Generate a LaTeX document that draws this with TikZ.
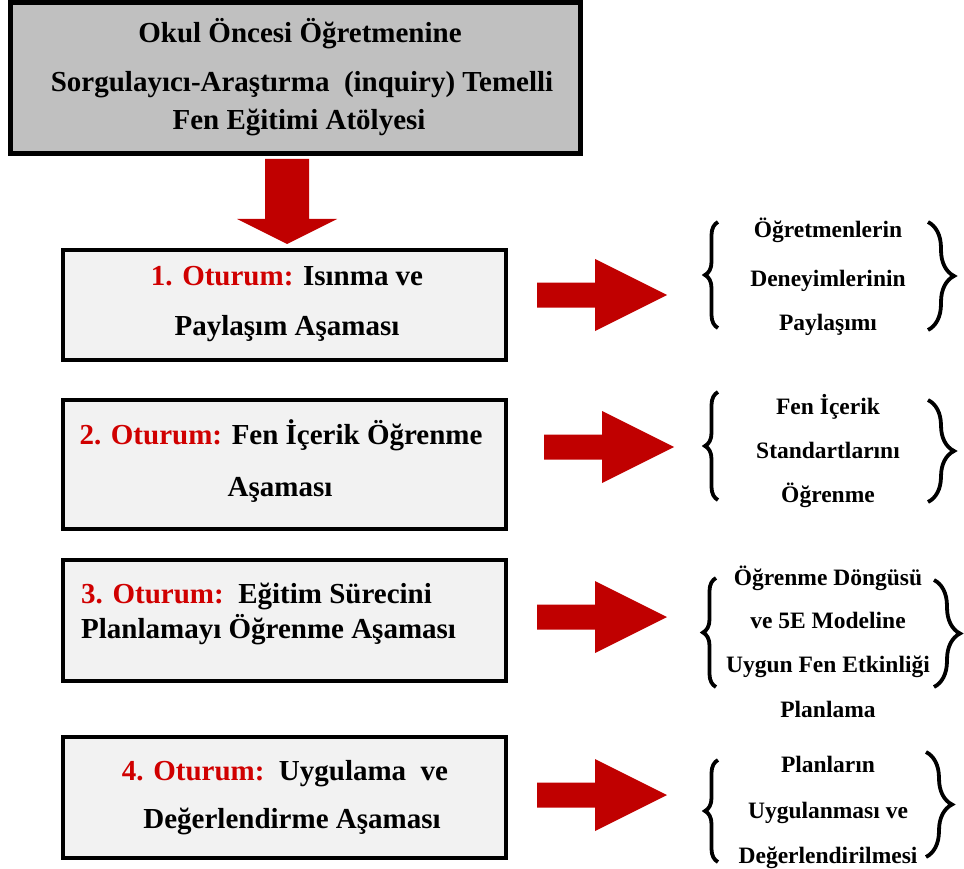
\documentclass[tikz,border=0pt]{standalone}
\usepackage{fontspec}
\setmainfont{Liberation Serif}[BoldFont={Liberation Serif Bold}]
\usetikzlibrary{decorations.pathreplacing}
\definecolor{arrowred}{HTML}{C00000}
\definecolor{labelred}{HTML}{D00000}
\definecolor{titlegray}{HTML}{C0C0C0}
\definecolor{boxgray}{HTML}{F2F2F2}
\tikzset{
  titlebox/.style={draw=black, line width=5pt, fill=titlegray},
  sessionbox/.style={draw=black, line width=4pt, fill=boxgray},
  bigtxt/.style={inner sep=0pt, anchor=base, font=\fontsize{29}{33}\selectfont\bfseries},
  smalltxt/.style={inner sep=0pt, anchor=base, font=\fontsize{23.5}{27}\selectfont\bfseries},
  lbrace/.style={decorate, decoration={brace, amplitude=13pt}, line width=3.8pt},
  rbrace/.style={decorate, decoration={brace, amplitude=26pt}, line width=3.8pt},
  rarrow/.pic={\fill[arrowred] (-65,-12.5) -- (-7,-12.5) -- (-7,-36) -- (65,0) -- (-7,36) -- (-7,12.5) -- (-65,12.5) -- cycle;}
}
\newcommand{\red}[1]{\textcolor{labelred}{#1}}
\begin{document}
\begin{tikzpicture}[x=1pt,y=-1pt]
\useasboundingbox (0,0) rectangle (964,869);

% title box
\draw[titlebox] (10,3) rectangle (580,154);
\node[bigtxt] (t1) at (300,43) {Okul Öncesi Öğretmenine};
\node[bigtxt] (t2) at (302,92) {Sorgulayıcı-Araştırma\ \ (inquiry) Temelli};
\node[bigtxt] (t3) at (299,130) {Fen Eğitimi Atölyesi};

% downward block arrow
\fill[arrowred] (265,159) -- (309,159) -- (309,219) -- (337,219) -- (287,244) -- (237,219) -- (265,219) -- cycle;

% session boxes
\draw[sessionbox] (63,250) rectangle (506,360);
\draw[sessionbox] (63,400) rectangle (506,529);
\draw[sessionbox] (63,560) rectangle (506,681);
\draw[sessionbox] (63,737) rectangle (506,858);

\node[bigtxt] (s1a) at (287,285) {\red{1. Oturum:} Isınma ve};
\node[bigtxt] (s1b) at (287,335) {Paylaşım Aşaması};

\node[bigtxt] (s2a) at (281,444) {\red{2. Oturum:} Fen İçerik Öğrenme};
\node[bigtxt] (s2b) at (280,496) {Aşaması};

\node[bigtxt, anchor=base west] (s3a) at (81,603) {\red{3. Oturum:}\ \ Eğitim Sürecini};
\node[bigtxt, anchor=base west] (s3b) at (81,638) {Planlamayı Öğrenme Aşaması};

\node[bigtxt] (s4a) at (285,780) {\red{4. Oturum:}\ \ Uygulama\ \ ve};
\node[bigtxt] (s4b) at (292,828) {Değerlendirme Aşaması};

% right block arrows
\pic at (602,295) {rarrow};
\pic at (609,447) {rarrow};
\pic at (602,617) {rarrow};
\pic at (602,795) {rarrow};

% bracketed outcomes
\draw[lbrace] (718,328) -- (718,222);
\draw[rbrace] (928,222) -- (928,330);
\node[smalltxt] (o1a) at (828,237) {Öğretmenlerin};
\node[smalltxt] (o1b) at (828,286) {Deneyimlerinin};
\node[smalltxt] (o1c) at (828,330) {Paylaşımı};

\draw[lbrace] (718,500) -- (718,392);
\draw[rbrace] (928,400) -- (928,502);
\node[smalltxt] (o2a) at (828,414) {Fen İçerik};
\node[smalltxt] (o2b) at (828,458) {Standartlarını};
\node[smalltxt] (o2c) at (828,502) {Öğrenme};

\draw[lbrace] (716,687) -- (716,578);
\draw[rbrace] (934,580) -- (934,687);
\node[smalltxt] (o3a) at (828,585) {Öğrenme Döngüsü};
\node[smalltxt] (o3b) at (828,628) {ve 5E Modeline};
\node[smalltxt] (o3c) at (828,672) {Uygun Fen Etkinliği};
\node[smalltxt] (o3d) at (828,717) {Planlama};

\draw[lbrace] (718,862) -- (718,760);
\draw[rbrace] (926,752) -- (926,857);
\node[smalltxt] (o4a) at (828,772) {Planların};
\node[smalltxt] (o4b) at (828,818) {Uygulanması ve};
\node[smalltxt] (o4c) at (828,863) {Değerlendirilmesi};
\end{tikzpicture}
\end{document}
